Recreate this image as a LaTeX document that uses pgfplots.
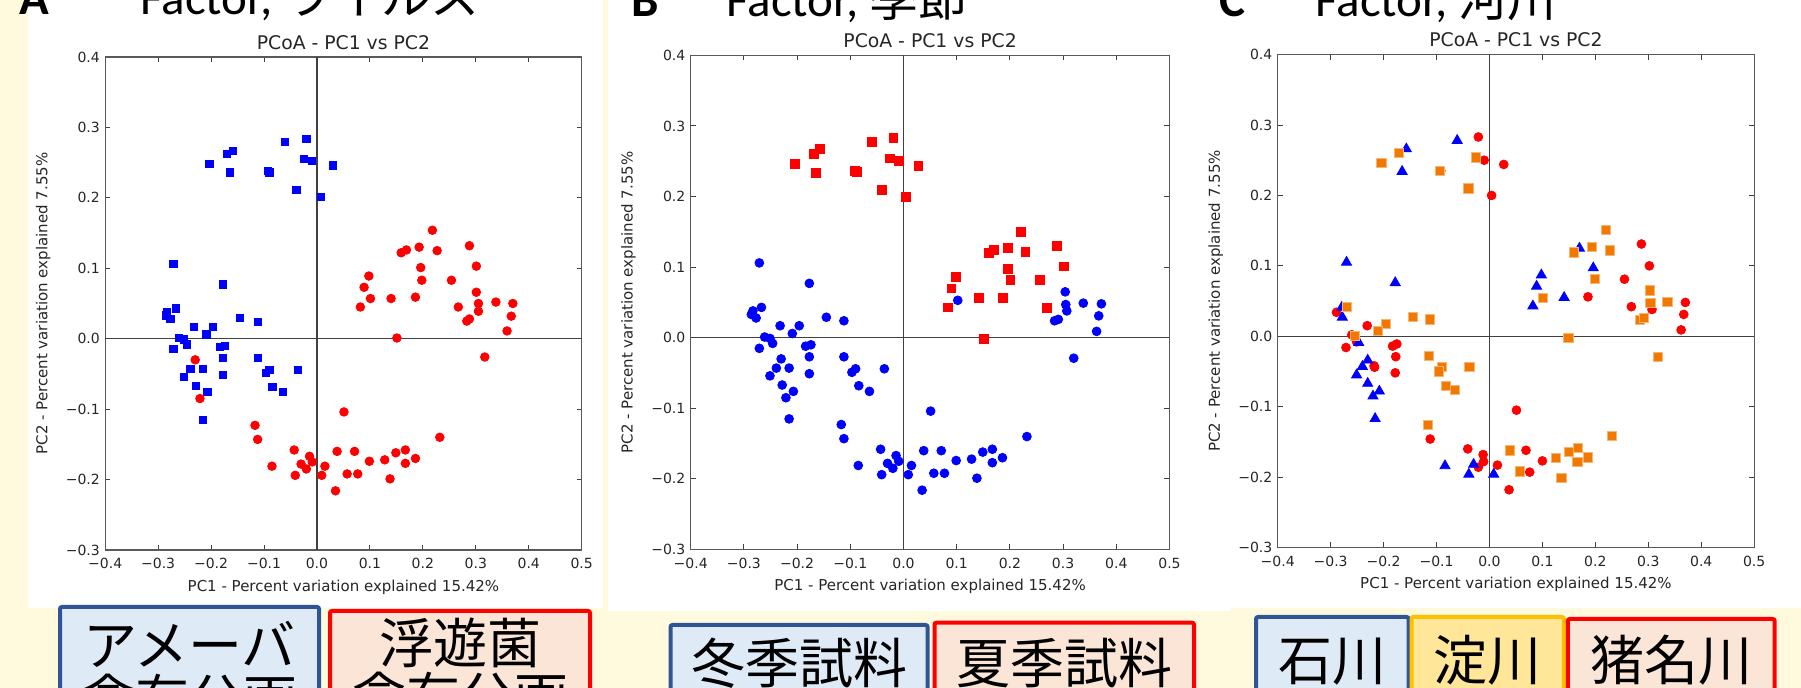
\documentclass[border=0pt]{standalone}
\usepackage{pgfplots}
\pgfplotsset{compat=1.18}
\usepackage{fontspec}
\setmainfont{DejaVu Sans}
\newfontfamily\carlito{Carlito}
\newfontfamily\cjk{Noto Sans CJK JP}
\definecolor{cream}{RGB}{255,250,222}
\definecolor{mplblue}{RGB}{0,0,255}
\definecolor{mplred}{RGB}{255,0,0}
\definecolor{mplorange}{RGB}{242,121,0}
\definecolor{boxblue}{RGB}{47,85,151}
\definecolor{fillblue}{RGB}{222,235,247}
\definecolor{fillred}{RGB}{251,229,214}
\definecolor{boxorange}{RGB}{255,192,0}
\definecolor{fillorange}{RGB}{255,230,153}
\pgfplotsset{pcoa/.style={
  scale only axis, anchor=south west,
  xmin=-0.4, xmax=0.5, ymin=-0.3, ymax=0.4,
  xtick={-0.4,-0.3,-0.2,-0.1,0,0.1,0.2,0.3,0.4,0.5},
  ytick={-0.3,-0.2,-0.1,0,0.1,0.2,0.3,0.4},
  xticklabels={−0.4,−0.3,−0.2,−0.1,0.0,0.1,0.2,0.3,0.4,0.5},
  yticklabels={−0.3,−0.2,−0.1,0.0,0.1,0.2,0.3,0.4},
  tick align=inside, major tick length=2.5pt,
  tick style={black!75, line width=0.5pt},
  axis line style={black!65, line width=0.6pt},
  ticklabel style={font=\fontsize{7}{8}\selectfont, text=black!85, inner sep=0pt},
  xticklabel style={anchor=north, yshift=-4pt},
  yticklabel style={anchor=east, xshift=-2.5pt},
  title={PCoA - PC1 vs PC2},
  title style={at={(axis description cs:0.5,1.03)}, anchor=center, inner sep=0pt, yshift=-6pt,
    font=\fontsize{9.4}{11}\selectfont, text=black!85},
  xlabel={PC1 - Percent variation explained 15.42\%},
  ylabel={PC2 - Percent variation explained 7.55\%},
  xlabel style={at={(axis description cs:0.5,-0.075)}, anchor=center, inner sep=0pt,
    font=\fontsize{7.5}{9}\selectfont, text=black!85},
  ylabel style={at={(axis description cs:-0.13,0.5)}, anchor=center, inner sep=0pt,
    font=\fontsize{7.5}{9}\selectfont, text=black!85},
  clip=false,
}}
\begin{document}
\begin{tikzpicture}
\useasboundingbox (0,0) rectangle (900.5pt,344pt);
\clip (0,0) rectangle (900.5pt,344pt);
\fill[cream] (0,0) rectangle (900.5pt,344pt);
\fill[white] (13.75pt,40pt) rectangle (301.5pt,345pt);
\fill[white] (304pt,38.5pt) rectangle (615.5pt,345pt);
\fill[white] (615.5pt,40pt) rectangle (901pt,345pt);
% headings
\node[anchor=base west, inner sep=0pt, font=\carlito\bfseries\fontsize{24.5}{28}\selectfont] at (9.5pt,336.5pt) {A};
\node[anchor=base west, inner sep=0pt, font=\carlito\fontsize{24.5}{28}\selectfont] at (70pt,336.5pt) {Factor, {\cjk ウイルス}};
\node[anchor=base west, inner sep=0pt, font=\carlito\bfseries\fontsize{24.5}{28}\selectfont] at (315.5pt,335.5pt) {B};
\node[anchor=base west, inner sep=0pt, font=\carlito\fontsize{24.5}{28}\selectfont] at (363pt,335.5pt) {Factor, {\cjk 季節}};
\node[anchor=base west, inner sep=0pt, font=\carlito\bfseries\fontsize{24.5}{28}\selectfont] at (609.5pt,335.5pt) {C};
\node[anchor=base west, inner sep=0pt, font=\carlito\fontsize{24.5}{28}\selectfont] at (657.5pt,335.5pt) {Factor, {\cjk 河川}};

% ---------------- Panel A
\begin{axis}[pcoa, at={(52.6pt,69pt)}, width=238.25pt, height=246.5pt]
\addplot[black!75, line width=0.6pt] coordinates {(0,-0.3) (0,0.4)};
\addplot[black!75, line width=0.6pt] coordinates {(-0.4,0) (0.5,0)};
\addplot[only marks, mark=square*, mark size=1.8pt, color=mplblue] coordinates {
(-0.203,0.248) (-0.170,0.262) (-0.159,0.267) (-0.164,0.236) (-0.093,0.238) (-0.090,0.236)
(-0.061,0.279) (-0.020,0.284) (-0.025,0.255) (-0.009,0.252) (-0.039,0.211) (0.007,0.201) (0.030,0.246)
(-0.271,0.106) (-0.177,0.077) (-0.283,0.038) (-0.286,0.033) (-0.277,0.028) (-0.267,0.043)
(-0.261,0.001) (-0.251,-0.001) (-0.246,-0.008) (-0.271,-0.015) (-0.232,0.017) (-0.209,0.006)
(-0.196,0.017) (-0.145,0.029) (-0.112,0.024) (-0.184,-0.012) (-0.174,-0.010) (-0.177,-0.027)
(-0.112,-0.027) (-0.239,-0.043) (-0.215,-0.043) (-0.251,-0.054) (-0.177,-0.051) (-0.097,-0.049)
(-0.090,-0.044) (-0.036,-0.044) (-0.228,-0.067) (-0.207,-0.076) (-0.084,-0.068) (-0.064,-0.076)
(-0.215,-0.115)};
\addplot[only marks, mark=*, mark size=2.15pt, color=mplred] coordinates {
(-0.230,-0.030) (-0.221,-0.085)
(0.218,0.154) (0.159,0.122) (0.169,0.126) (0.193,0.130) (0.227,0.125) (0.288,0.132)
(0.196,0.101) (0.301,0.103) (0.098,0.089) (0.089,0.073) (0.101,0.057) (0.082,0.045)
(0.140,0.057) (0.186,0.059) (0.198,0.083) (0.254,0.083) (0.301,0.066) (0.267,0.045)
(0.305,0.050) (0.305,0.039) (0.338,0.052) (0.370,0.050) (0.367,0.032) (0.283,0.025)
(0.288,0.028) (0.359,0.011) (0.151,0.001) (0.317,-0.026)
(0.051,-0.104) (-0.117,-0.123) (-0.112,-0.143) (-0.043,-0.158) (-0.014,-0.167) (-0.030,-0.178)
(-0.020,-0.185) (-0.009,-0.175) (-0.085,-0.181) (-0.041,-0.194) (0.015,-0.181) (0.009,-0.194)
(0.038,-0.160) (0.071,-0.160) (0.057,-0.192) (0.077,-0.192) (0.099,-0.174) (0.128,-0.172)
(0.149,-0.162) (0.167,-0.158) (0.167,-0.177) (0.186,-0.170) (0.138,-0.199) (0.035,-0.216)
(0.232,-0.140)};
\end{axis}

% ---------------- Panel B
\begin{axis}[pcoa, at={(345.35pt,69.25pt)}, width=239.4pt, height=247.05pt]
\addplot[black!75, line width=0.6pt] coordinates {(0,-0.3) (0,0.4)};
\addplot[black!75, line width=0.6pt] coordinates {(-0.4,0) (0.5,0)};
\addplot[only marks, mark=*, mark size=2.2pt, color=mplblue] coordinates {
(0.102,0.053) (0.304,0.065) (0.305,0.047) (0.307,0.038) (0.338,0.049) (0.372,0.048)
(0.367,0.031) (0.284,0.024) (0.291,0.026) (0.363,0.009) (0.320,-0.029)
(-0.271,0.106) (-0.177,0.077) (-0.283,0.038) (-0.286,0.033) (-0.277,0.028) (-0.267,0.043)
(-0.261,0.001) (-0.251,-0.001) (-0.246,-0.008) (-0.271,-0.015) (-0.232,0.017) (-0.209,0.006)
(-0.196,0.017) (-0.145,0.029) (-0.112,0.024) (-0.184,-0.012) (-0.174,-0.010) (-0.177,-0.027)
(-0.112,-0.027) (-0.239,-0.043) (-0.215,-0.043) (-0.251,-0.054) (-0.177,-0.051) (-0.097,-0.049)
(-0.090,-0.044) (-0.036,-0.044) (-0.228,-0.067) (-0.207,-0.076) (-0.084,-0.068) (-0.064,-0.076)
(-0.215,-0.115) (-0.230,-0.030) (-0.221,-0.085)
(0.051,-0.104) (-0.117,-0.123) (-0.112,-0.143) (-0.043,-0.158) (-0.014,-0.167) (-0.030,-0.178)
(-0.020,-0.185) (-0.009,-0.175) (-0.085,-0.181) (-0.041,-0.194) (0.015,-0.181) (0.009,-0.194)
(0.038,-0.160) (0.071,-0.160) (0.057,-0.192) (0.077,-0.192) (0.099,-0.174) (0.128,-0.172)
(0.149,-0.162) (0.167,-0.158) (0.167,-0.177) (0.186,-0.170) (0.138,-0.199) (0.035,-0.216)
(0.232,-0.140)};
\addplot[only marks, mark=square*, mark size=2.2pt, color=mplred] coordinates {
(-0.204,0.246) (-0.169,0.261) (-0.157,0.267) (-0.164,0.234) (-0.092,0.236) (-0.088,0.235)
(-0.060,0.278) (-0.019,0.283) (-0.025,0.254) (-0.008,0.250) (-0.040,0.209) (0.005,0.200) (0.028,0.244)
(0.221,0.150) (0.160,0.120) (0.170,0.124) (0.196,0.127) (0.229,0.122) (0.288,0.130)
(0.196,0.097) (0.302,0.101) (0.099,0.086) (0.090,0.070) (0.083,0.043) (0.142,0.056)
(0.187,0.056) (0.201,0.082) (0.257,0.082) (0.269,0.042) (0.151,-0.002)};
\end{axis}

% ---------------- Panel C
\begin{axis}[pcoa, at={(638.85pt,70.25pt)}, width=238.25pt, height=246.45pt]
\addplot[black!75, line width=0.6pt] coordinates {(0,-0.3) (0,0.4)};
\addplot[black!75, line width=0.6pt] coordinates {(-0.4,0) (0.5,0)};
\addplot[only marks, mark=*, mark size=2.2pt, color=mplred] coordinates {
(-0.021,0.283) (-0.010,0.250) (0.027,0.244) (0.004,0.200) (-0.092,0.235)
(-0.289,0.034) (-0.260,0.002) (-0.271,-0.016) (-0.251,-0.008) (-0.231,0.015) (-0.218,-0.042)
(-0.217,-0.044) (-0.183,-0.014) (-0.175,-0.011) (-0.177,-0.029) (-0.178,-0.052)
(0.287,0.131) (0.302,0.100) (0.255,0.081) (0.186,0.056) (0.268,0.042) (0.307,0.038)
(0.370,0.048) (0.367,0.031) (0.362,0.009)
(0.051,-0.105) (-0.112,-0.146) (-0.041,-0.160) (-0.012,-0.168) (-0.011,-0.178) (-0.021,-0.186)
(0.015,-0.183) (0.069,-0.162) (0.100,-0.177) (0.076,-0.193) (0.037,-0.218)};
\addplot[only marks, mark=triangle*, mark size=2.9pt, color=mplblue] coordinates {
(-0.157,0.266) (-0.165,0.234) (-0.061,0.278) (-0.270,0.105) (-0.178,0.076) (-0.279,0.041)
(-0.278,0.027) (-0.247,-0.009) (-0.230,-0.034) (-0.240,-0.043) (-0.251,-0.055) (-0.230,-0.067)
(-0.220,-0.085) (-0.208,-0.078) (-0.216,-0.117) (-0.084,-0.184) (-0.039,-0.196) (-0.030,-0.182)
(0.008,-0.196) (0.170,0.125) (0.196,0.097) (0.098,0.087) (0.089,0.071) (0.082,0.043) (0.141,0.055)};
\addplot[only marks, mark=square*, mark size=2.3pt, mark options={fill=mplorange, draw=mplorange!55!white, line width=0.4pt}] coordinates {
(-0.204,0.246) (-0.171,0.260) (-0.093,0.235) (-0.025,0.254) (-0.040,0.210)
(-0.269,0.042) (-0.196,0.017) (-0.211,0.008) (-0.254,0.000) (-0.144,0.027) (-0.113,0.024)
(-0.115,-0.028) (-0.090,-0.044) (-0.095,-0.050) (-0.038,-0.044) (-0.083,-0.070) (-0.066,-0.076)
(0.220,0.151) (0.159,0.119) (0.194,0.127) (0.228,0.122) (0.199,0.082) (0.101,0.054)
(0.303,0.065) (0.304,0.047) (0.336,0.049) (0.284,0.023) (0.292,0.026) (0.149,-0.002) (0.318,-0.029)
(-0.117,-0.126) (0.038,-0.162) (0.058,-0.192) (0.126,-0.173) (0.150,-0.164) (0.167,-0.159)
(0.166,-0.178) (0.186,-0.172) (0.136,-0.201) (0.231,-0.142)};
\end{axis}

% ---------------- bottom boxes
\tikzset{boxtxt/.style={anchor=base, inner sep=0pt, font=\cjk\fontsize{27}{28}\selectfont}}
\draw[boxblue, line width=2pt, fill=fillblue, rounded corners=1pt] (30pt,-10pt) rectangle (159.5pt,40.5pt);
\node[boxtxt] at (94.75pt,11pt) {アメーバ};
\node[boxtxt] at (94.75pt,-16pt) {含有分画};
\draw[mplred, line width=2pt, fill=fillred, rounded corners=1pt] (165pt,-10pt) rectangle (295pt,38.5pt);
\node[boxtxt] at (230pt,12pt) {浮遊菌};
\node[boxtxt] at (230pt,-15pt) {含有分画};
\draw[boxblue, line width=2pt, fill=fillblue, rounded corners=1pt] (335.25pt,-10pt) rectangle (463.8pt,31.5pt);
\node[boxtxt] at (399.5pt,2pt) {冬季試料};
\draw[mplred, line width=2pt, fill=fillred, rounded corners=1pt] (467.25pt,-10pt) rectangle (597pt,32.65pt);
\node[boxtxt] at (532pt,2pt) {夏季試料};
\draw[boxblue, line width=2pt, fill=fillblue, rounded corners=1pt] (628pt,-10pt) rectangle (704.3pt,35.5pt);
\node[boxtxt] at (666.2pt,3.5pt) {石川};
\draw[boxorange, line width=2pt, fill=fillorange, rounded corners=1pt] (705.75pt,-10pt) rectangle (781.9pt,35.5pt);
\node[boxtxt] at (743.8pt,3.5pt) {淀川};
\draw[mplred, line width=2pt, fill=fillred, rounded corners=1pt] (783.9pt,-10pt) rectangle (887.35pt,34.5pt);
\node[boxtxt] at (835.6pt,3.5pt) {猪名川};
\end{tikzpicture}
\end{document}
